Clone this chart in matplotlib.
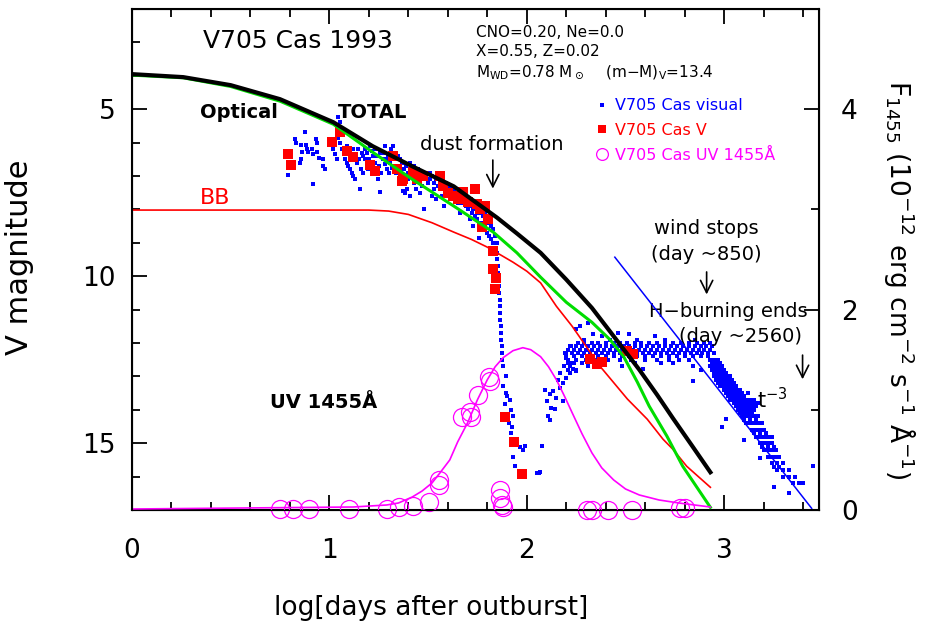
import matplotlib
matplotlib.use("Agg")
import matplotlib.pyplot as plt
from matplotlib.lines import Line2D
from matplotlib.ticker import MultipleLocator

plt.rcParams['font.family'] = ['DejaVu Sans']
plt.rcParams['mathtext.fontset'] = 'dejavusans'

# --- model light curves (log t [day], V mag) ---
total_t = [0.0, 0.26, 0.50, 0.75, 1.02, 1.22, 1.42, 1.63, 1.85, 1.95, 2.07, 2.20, 2.33, 2.46, 2.57, 2.66, 2.74, 2.84, 2.93]
total_v = [3.95, 4.04, 4.28, 4.70, 5.39, 6.11, 6.71, 7.31, 8.25, 8.72, 9.30, 10.10, 10.95, 11.95, 12.80, 13.55, 14.25, 15.10, 15.87]

optical_t = [0.0, 0.26, 0.50, 0.75, 1.02, 1.22, 1.42, 1.63, 1.83, 1.95, 2.07, 2.20, 2.33, 2.42, 2.49, 2.56, 2.62, 2.71, 2.79, 2.93]
optical_v = [3.98, 4.06, 4.32, 4.76, 5.45, 6.29, 7.10, 7.90, 8.68, 9.30, 10.03, 10.78, 11.38, 11.89, 12.40, 13.17, 13.89, 14.79, 15.69, 16.92]

bb_t = [0.0, 0.50, 1.00, 1.20, 1.30, 1.40, 1.52, 1.63, 1.72, 1.80, 1.93, 2.00, 2.07, 2.15, 2.23, 2.37, 2.51, 2.61, 2.69, 2.74, 2.81, 2.93]
bb_v = [8.02, 8.02, 8.02, 8.02, 8.05, 8.15, 8.40, 8.68, 8.90, 9.13, 9.58, 9.85, 10.20, 10.90, 11.50, 12.69, 13.68, 14.28, 14.88, 15.18, 15.69, 16.32]

# UV 1455A model flux (1e-12 erg/cm2/s/A)
uv_t = [0.0, 1.12, 1.29, 1.35, 1.42, 1.47, 1.52, 1.56, 1.61, 1.65, 1.70, 1.75, 1.80, 1.84, 1.88, 1.93,
        1.98, 2.02, 2.07, 2.11, 2.15, 2.19, 2.23, 2.28, 2.33, 2.38, 2.44, 2.50, 2.57, 2.67, 2.77, 2.93]
uv_f = [0.01, 0.03, 0.05, 0.07, 0.13, 0.19, 0.27, 0.37, 0.50, 0.68, 0.87, 1.10, 1.30, 1.43, 1.52, 1.59,
        1.62, 1.60, 1.53, 1.43, 1.30, 1.14, 0.97, 0.76, 0.57, 0.42, 0.30, 0.21, 0.15, 0.10, 0.07, 0.03]

# t^-3 decline line
tdecay_t = [2.446, 3.443]
tdecay_v = [9.43, 16.95]

# --- observations ---
v_obs = [
    (0.790, 6.35), (0.805, 6.68), (1.013, 5.99), (1.053, 5.69), (1.089, 6.26),
    (1.119, 6.44), (1.205, 6.68), (1.230, 6.86), (1.322, 6.41), (1.342, 6.80),
    (1.367, 7.16), (1.372, 7.10), (1.423, 6.89), (1.443, 7.10), (1.473, 7.01),
    (1.559, 7.01), (1.575, 7.31), (1.600, 7.50), (1.625, 7.60), (1.650, 7.70),
    (1.676, 7.49), (1.701, 7.78), (1.737, 7.40), (1.747, 7.85), (1.762, 7.99),
    (1.787, 7.90), (1.803, 8.30), (1.772, 8.53), (1.828, 9.25), (1.828, 9.79),
    (1.843, 10.04), (1.838, 10.39), (1.889, 14.22), (1.934, 14.97), (1.975, 15.93),
    (2.319, 12.49), (2.354, 12.63), (2.380, 12.57), (2.506, 12.25), (2.537, 12.34),
]

uv_obs = [
    (0.749, 0.01), (0.815, 0.01), (0.896, 0.01), (1.099, 0.01), (1.291, 0.01),
    (1.352, 0.03), (1.423, 0.04), (1.504, 0.08), (1.554, 0.30), (1.554, 0.25),
    (1.671, 0.93), (1.711, 0.98), (1.716, 0.93), (1.752, 1.15), (1.808, 1.33),
    (1.813, 1.29), (1.863, 0.20), (1.863, 0.12), (1.873, 0.05), (1.878, 0.03),
    (2.304, 0.00), (2.329, 0.00), (2.410, 0.00), (2.532, 0.00), (2.775, 0.02),
    (2.800, 0.02),
]

# visual estimates, grouped by phase
vis_early = [
    (0.790, 6.98), (0.826, 5.88), (0.829, 6.00), (0.855, 6.08), (0.877, 5.68),
    (0.882, 6.08), (0.885, 6.18), (0.860, 6.28), (0.856, 6.48), (0.850, 6.60),
    (0.894, 6.28), (0.910, 6.18), (0.919, 6.35), (0.932, 5.88), (0.936, 6.00),
    (0.939, 6.28), (0.949, 6.45), (0.966, 6.50), (0.970, 6.70), (0.978, 6.80),
    (0.915, 7.25), (1.007, 6.08), (1.020, 6.20), (1.029, 6.35), (1.037, 6.50),
    (1.046, 5.85), (1.054, 6.00), (1.057, 5.60), (1.043, 5.24), (1.053, 5.39),
    (1.062, 6.20), (1.079, 6.50), (1.088, 6.60), (1.096, 6.70), (1.105, 6.80),
    (1.113, 6.90), (1.120, 7.00), (1.130, 7.10), (1.155, 7.38), (1.147, 6.20),
    (1.164, 6.30), (1.172, 6.40), (1.180, 6.50), (1.189, 6.70), (1.197, 6.80),
    (1.206, 6.10), (1.214, 6.25), (1.222, 6.40), (1.230, 6.60), (1.240, 6.90),
    (1.248, 7.08), (1.256, 7.48), (1.256, 6.30), (1.273, 6.50), (1.282, 6.65),
    (1.290, 6.80), (1.299, 6.40), (1.307, 6.60), (1.316, 6.75), (1.324, 6.10),
    (1.333, 6.30), (1.341, 6.50), (1.350, 6.70), (1.358, 7.20), (1.375, 7.45),
    (1.383, 7.50), (1.392, 7.40), (1.090, 6.10), (1.100, 6.30), (1.120, 6.20),
    (1.130, 6.40), (1.140, 6.60), (1.150, 6.50), (1.160, 6.80), (1.170, 6.90),
    (1.180, 6.20), (1.190, 6.30), (1.200, 6.50), (1.210, 6.60), (1.220, 6.90),
    (1.230, 6.20), (1.240, 6.40), (1.250, 6.70), (1.260, 6.90), (1.270, 6.30),
    (1.280, 6.10), (1.290, 6.50), (1.300, 6.90), (1.310, 6.20), (1.320, 6.50),
    (1.330, 6.80), (1.340, 6.90), (1.350, 6.40),
]

vis_decline1 = [
    (1.36, 6.5), (1.37, 6.6), (1.38, 6.8), (1.38, 7.0), (1.39, 6.7), (1.40, 6.9),
    (1.40, 7.1), (1.41, 6.6), (1.42, 6.8), (1.42, 7.0), (1.43, 7.2), (1.43, 6.7),
    (1.44, 6.9), (1.45, 7.1), (1.45, 6.8), (1.46, 7.0), (1.47, 6.9), (1.47, 7.3),
    (1.48, 7.1), (1.49, 7.0), (1.41, 7.6), (1.44, 7.4), (1.48, 8.0), (1.46, 7.5),
    (1.50, 7.2), (1.51, 6.9), (1.51, 7.1), (1.52, 7.0), (1.53, 7.2), (1.53, 7.4),
    (1.54, 7.1), (1.55, 7.3), (1.55, 7.0), (1.56, 7.2), (1.57, 7.4), (1.57, 7.6),
    (1.58, 7.2), (1.59, 7.3), (1.59, 7.5), (1.60, 7.4), (1.61, 7.6), (1.61, 7.3),
    (1.62, 7.5), (1.63, 7.7), (1.63, 7.4), (1.64, 7.6), (1.65, 7.5), (1.65, 7.8),
    (1.66, 8.1), (1.54, 7.7), (1.58, 7.9), (1.52, 7.6), (1.67, 7.6), (1.67, 7.8),
    (1.68, 7.7), (1.69, 7.9), (1.69, 7.6), (1.70, 7.8), (1.70, 8.0), (1.71, 7.7),
    (1.72, 7.9), (1.72, 8.1), (1.73, 8.0), (1.73, 8.5), (1.74, 7.8), (1.74, 8.2),
    (1.75, 8.0), (1.75, 8.3), (1.76, 8.1), (1.76, 8.85), (1.71, 8.3), (1.77, 8.0),
    (1.77, 8.4), (1.78, 8.2), (1.78, 8.5), (1.79, 8.1), (1.79, 8.6), (1.80, 8.3),
    (1.80, 8.7), (1.81, 8.4), (1.81, 8.8), (1.82, 8.5), (1.82, 8.9), (1.83, 8.6),
    (1.83, 9.0), (1.84, 8.8), (1.84, 9.2), (1.85, 9.0),
]

vis_dust = [
    (1.850, 9.3), (1.850, 9.5), (1.855, 9.7), (1.855, 9.9), (1.860, 10.1),
    (1.860, 10.3), (1.860, 10.5), (1.862, 10.7), (1.862, 10.9), (1.865, 11.1),
    (1.865, 11.3), (1.868, 11.5), (1.868, 11.7), (1.870, 11.9), (1.872, 12.1),
    (1.875, 12.3), (1.875, 12.5), (1.880, 12.7), (1.897, 13.0), (1.880, 13.3),
    (1.893, 13.5), (1.888, 13.84), (1.914, 13.7), (1.922, 14.0), (1.930, 14.2),
    (1.927, 14.5), (1.922, 14.7), (1.930, 15.0), (1.964, 15.1), (1.990, 15.07),
    (1.980, 15.2), (1.930, 15.4), (1.940, 15.67), (1.900, 13.6), (1.905, 14.2),
    (1.910, 14.4),
]

vis_recovery = [
    (2.050, 15.9), (2.060, 15.9), (2.066, 15.87), (2.076, 15.09), (2.090, 13.4),
    (2.100, 13.74), (2.108, 14.2), (2.116, 14.3), (2.125, 13.94), (2.142, 13.99),
    (2.116, 13.54), (2.133, 13.44), (2.150, 13.64), (2.167, 13.34), (2.184, 13.19),
    (2.200, 13.04), (2.184, 13.74), (2.218, 12.89), (2.235, 12.79), (2.251, 12.84),
    (2.209, 12.59), (2.200, 12.44), (2.192, 12.29), (2.226, 12.09), (2.268, 11.49),
    (2.251, 11.59), (2.160, 13.1), (2.170, 12.9), (2.190, 12.7), (2.210, 12.8),
    (2.240, 12.6),
]

vis_plateau = [
    (2.26, 12.0), (2.29, 12.0), (2.33, 12.0), (2.36, 12.0), (2.40, 12.0), (2.44, 12.0),
    (2.47, 12.0), (2.51, 12.0), (2.55, 12.0), (2.58, 12.0), (2.62, 12.0), (2.66, 12.0),
    (2.70, 12.0), (2.74, 12.0), (2.78, 12.0), (2.82, 12.0), (2.86, 12.0), (2.90, 12.0),
    (2.93, 12.0),
    (2.22, 12.1), (2.25, 12.1), (2.28, 12.1), (2.31, 12.1), (2.34, 12.1), (2.37, 12.1),
    (2.40, 12.1), (2.43, 12.1), (2.46, 12.1), (2.49, 12.1), (2.52, 12.1), (2.55, 12.1),
    (2.58, 12.1), (2.61, 12.1), (2.64, 12.1), (2.67, 12.1), (2.70, 12.1), (2.73, 12.1),
    (2.76, 12.1), (2.79, 12.1), (2.82, 12.1), (2.85, 12.1), (2.88, 12.1), (2.91, 12.1),
    (2.94, 12.1),
    (2.21, 12.2), (2.24, 12.2), (2.27, 12.2), (2.30, 12.2), (2.33, 12.2), (2.36, 12.2),
    (2.39, 12.2), (2.42, 12.2), (2.45, 12.2), (2.48, 12.2), (2.51, 12.2), (2.54, 12.2),
    (2.57, 12.2), (2.60, 12.2), (2.63, 12.2), (2.66, 12.2), (2.69, 12.2), (2.72, 12.2),
    (2.75, 12.2), (2.78, 12.2), (2.81, 12.2), (2.84, 12.2), (2.87, 12.2), (2.90, 12.2),
    (2.93, 12.2),
    (2.20, 12.3), (2.23, 12.3), (2.26, 12.3), (2.29, 12.3), (2.32, 12.3), (2.35, 12.3),
    (2.38, 12.3), (2.41, 12.3), (2.44, 12.3), (2.47, 12.3), (2.50, 12.3), (2.53, 12.3),
    (2.56, 12.3), (2.59, 12.3), (2.62, 12.3), (2.65, 12.3), (2.68, 12.3), (2.71, 12.3),
    (2.74, 12.3), (2.77, 12.3), (2.80, 12.3), (2.83, 12.3), (2.86, 12.3), (2.89, 12.3),
    (2.92, 12.3), (2.95, 12.3),
    (2.20, 12.4), (2.24, 12.4), (2.28, 12.4), (2.32, 12.4), (2.36, 12.4), (2.40, 12.4),
    (2.44, 12.4), (2.48, 12.4), (2.52, 12.4), (2.56, 12.4), (2.60, 12.4), (2.64, 12.4),
    (2.68, 12.4), (2.72, 12.4), (2.76, 12.4), (2.80, 12.4), (2.84, 12.4), (2.88, 12.4),
    (2.92, 12.4),
    (2.21, 12.5), (2.25, 12.5), (2.30, 12.5), (2.35, 12.5), (2.41, 12.5), (2.47, 12.5),
    (2.53, 12.5), (2.60, 12.5), (2.66, 12.5), (2.72, 12.5), (2.77, 12.5), (2.82, 12.5),
    (2.23, 12.6), (2.28, 12.6), (2.38, 12.6), (2.55, 12.6), (2.68, 12.6), (2.74, 12.6),
    (2.31, 11.4), (2.336, 11.74), (2.46, 11.69), (2.52, 11.74), (2.38, 11.8), (2.29, 11.9),
    (2.42, 11.9), (2.56, 11.9), (2.65, 11.8), (2.70, 11.9), (2.85, 11.9), (2.59, 12.79),
    (2.22, 12.7), (2.25, 12.8), (2.31, 12.7), (2.48, 12.7), (2.84, 12.7), (2.88, 12.8),
]

vis_final = [
    (2.93, 12.5), (2.95, 12.5), (2.97, 12.5), (2.94, 12.6), (2.96, 12.6), (2.98, 12.6),
    (2.93, 12.7), (2.95, 12.7), (2.97, 12.7), (2.99, 12.7), (2.94, 12.8), (2.96, 12.8),
    (2.98, 12.8), (3.00, 12.8), (2.95, 12.9), (2.97, 12.9), (2.99, 12.9), (3.01, 12.9),
    (2.95, 13.0), (2.97, 13.0), (2.99, 13.0), (3.01, 13.0), (3.03, 13.0),
    (2.96, 13.1), (2.98, 13.1), (3.00, 13.1), (3.02, 13.1), (3.04, 13.1),
    (2.97, 13.2), (2.99, 13.2), (3.01, 13.2), (3.03, 13.2), (3.05, 13.2),
    (2.98, 13.3), (3.00, 13.3), (3.02, 13.3), (3.04, 13.3), (3.06, 13.3),
    (3.00, 13.4), (3.02, 13.4), (3.04, 13.4), (3.06, 13.4), (3.08, 13.4),
    (3.01, 13.5), (3.03, 13.5), (3.05, 13.5), (3.07, 13.5), (3.09, 13.5), (3.12, 13.5),
    (3.02, 13.6), (3.04, 13.6), (3.06, 13.6), (3.08, 13.6), (3.10, 13.6),
    (3.03, 13.7), (3.05, 13.7), (3.07, 13.7), (3.09, 13.7), (3.11, 13.7), (3.13, 13.7),
    (3.15, 13.7), (3.05, 13.8), (3.07, 13.8), (3.09, 13.8), (3.11, 13.8), (3.13, 13.8),
    (3.15, 13.8), (3.17, 13.8), (3.06, 13.9), (3.08, 13.9), (3.10, 13.9), (3.12, 13.9),
    (3.14, 13.9), (3.16, 13.9), (3.07, 14.0), (3.09, 14.0), (3.11, 14.0), (3.13, 14.0),
    (3.15, 14.0), (3.08, 14.1), (3.10, 14.1), (3.12, 14.1), (3.14, 14.1),
    (3.09, 14.2), (3.11, 14.2), (3.13, 14.2), (3.15, 14.2), (3.17, 14.2),
    (3.10, 14.3), (3.13, 14.3), (3.16, 14.3),
    (3.11, 14.4), (3.13, 14.4), (3.15, 14.4), (3.17, 14.4), (3.19, 14.4),
    (3.14, 14.6), (3.16, 14.6), (3.18, 14.6), (3.20, 14.6),
    (3.15, 14.7), (3.18, 14.7), (3.21, 14.7),
    (3.16, 14.8), (3.18, 14.8), (3.20, 14.8), (3.22, 14.8), (3.24, 14.8),
    (3.18, 15.0), (3.20, 15.0), (3.22, 15.0), (3.24, 15.0),
    (3.19, 15.1), (3.22, 15.1), (3.25, 15.1),
    (3.20, 15.2), (3.22, 15.2), (3.24, 15.2), (3.26, 15.2),
    (3.22, 15.4), (3.24, 15.4), (3.26, 15.4), (3.28, 15.4),
    (3.24, 15.6), (3.27, 15.6), (3.30, 15.6), (3.25, 15.7), (3.28, 15.7),
    (3.27, 15.8), (3.30, 15.8), (3.33, 15.8),
    (3.30, 16.0), (3.33, 16.0), (3.36, 16.0), (3.35, 16.2), (3.38, 16.2), (3.40, 16.2),
    (2.84, 13.14), (3.45, 15.67), (3.01, 14.27), (3.18, 15.44), (2.99, 14.5),
    (3.25, 16.3), (3.10, 14.9), (3.33, 16.5),
]

vis_all = vis_early + vis_decline1 + vis_dust + vis_recovery + vis_plateau + vis_final
vis_t = [p[0] for p in vis_all]
vis_v = [p[1] for p in vis_all]

fig = plt.figure(figsize=(9.26, 6.33), dpi=100)
ax = fig.add_axes([0.1425, 0.1943, 0.7419, 0.7915])
ax2 = ax.twinx()

ax.plot(vis_t, vis_v, 's', color='blue', ms=2.4, mew=0, zorder=2)
ax.plot([p[0] for p in v_obs], [p[1] for p in v_obs], 's', color='red',
        ms=7.5, mew=0, zorder=3)
ax.plot(bb_t, bb_v, '-', color='red', lw=1.2, zorder=4)
ax.plot(optical_t, optical_v, '-', color='#00dd00', lw=2.2, zorder=5)
ax.plot(total_t, total_v, '-', color='black', lw=3.0, zorder=6)
ax.plot(tdecay_t, tdecay_v, '-', color='blue', lw=1.1, zorder=4)

ax2.plot(uv_t, uv_f, '-', color='magenta', lw=1.2)
ax2.plot([p[0] for p in uv_obs], [p[1] for p in uv_obs], 'o', mfc='none',
         mec='magenta', ms=13, mew=0.9, clip_on=False)

ax.set_xlim(0, 3.48)
ax.set_ylim(17, 2)
ax2.set_ylim(0, 5)

for sp in ax.spines.values():
    sp.set_linewidth(1.5)

ax.xaxis.set_major_locator(MultipleLocator(1))
ax.xaxis.set_minor_locator(MultipleLocator(0.2))
ax.yaxis.set_major_locator(MultipleLocator(5))
ax.yaxis.set_minor_locator(MultipleLocator(1))
ax.tick_params(which='both', direction='in', top=True, right=False, width=1.3,
               labelsize=19, pad=12)
ax.tick_params(axis='x', which='both', pad=20)
ax.tick_params(which='major', length=11)
ax.tick_params(which='minor', length=6)

ax2.yaxis.set_major_locator(MultipleLocator(2))
ax2.yaxis.set_minor_locator(MultipleLocator(1))
ax2.tick_params(which='both', direction='in', width=1.3, labelsize=19, pad=16)
ax2.tick_params(which='major', length=11)
ax2.tick_params(which='minor', length=6)

ax.set_xlabel('log[days after outburst]', fontsize=19)
ax.set_ylabel('V magnitude', fontsize=22)
ax.xaxis.set_label_coords(0.435, -0.17)
ax.yaxis.set_label_coords(-0.143, 0.505)
ax2.set_ylabel(r'F$_{1455}$ (10$^{-12}$ erg cm$^{-2}$ s$^{-1}$ Å$^{-1}$)',
               fontsize=19, rotation=270, va='center')
ax2.yaxis.set_label_coords(1.118, 0.46)

# labels and annotations
ax.text(0.36, 2.96, 'V705 Cas 1993', fontsize=18, va='center')
ax.text(1.742, 2.69, 'CNO=0.20, Ne=0.0', fontsize=11, va='center')
ax.text(1.742, 3.26, 'X=0.55, Z=0.02', fontsize=11, va='center')
ax.text(1.742, 3.89, r'M$_{\rm WD}$=0.78 M$_\odot$    (m$-$M)$_{\rm V}$=13.4',
        fontsize=11, va='center')
ax.text(0.344, 5.09, 'Optical', fontsize=14, fontweight='bold', va='center')
ax.text(1.043, 5.09, 'TOTAL', fontsize=14, fontweight='bold', va='center')
ax.text(0.344, 7.66, 'BB', fontsize=16, color='red', va='center')
ax.text(0.699, 13.77, 'UV 1455Å', fontsize=14, fontweight='bold', va='center')

arrow = dict(arrowstyle='->', lw=1.2, color='black', mutation_scale=22)
ax.text(1.458, 6.05, 'dust formation', fontsize=14, va='center')
ax.annotate('', xy=(1.828, 7.46), xytext=(1.828, 6.44), arrowprops=arrow)
ax.text(2.911, 8.56, 'wind stops', fontsize=14, va='center', ha='center')
ax.text(2.911, 9.34, '(day ~850)', fontsize=14, va='center', ha='center')
ax.annotate('', xy=(2.911, 10.63), xytext=(2.911, 9.79), arrowprops=arrow)
ax.text(3.023, 11.05, 'H\u2212burning ends', fontsize=14, va='center', ha='center')
ax.text(3.084, 11.80, '(day ~2560)', fontsize=14, va='center', ha='center')
ax.annotate('', xy=(3.397, 13.17), xytext=(3.397, 12.28), arrowprops=arrow)
ax.text(3.165, 13.68, r't$^{-3}$', fontsize=15, va='center')

# legend keys
keys = [
    Line2D([], [], ls='none', marker='s', color='blue', ms=2.4, mew=0),
    Line2D([], [], ls='none', marker='s', color='red', ms=6, mew=0),
    Line2D([], [], ls='none', marker='o', mfc='none', mec='magenta', ms=8.5, mew=0.9),
]
ax2.legend(keys, ['V705 Cas visual', 'V705 Cas V', 'V705 Cas UV 1455Å'],
           loc='upper left', bbox_to_anchor=(0.665, 0.838), frameon=False,
           fontsize=11.5, labelcolor=['blue', 'red', 'magenta'], handlelength=0.7,
           handletextpad=0.45, labelspacing=0.62, borderpad=0)

plt.savefig('out.png', dpi=100)
